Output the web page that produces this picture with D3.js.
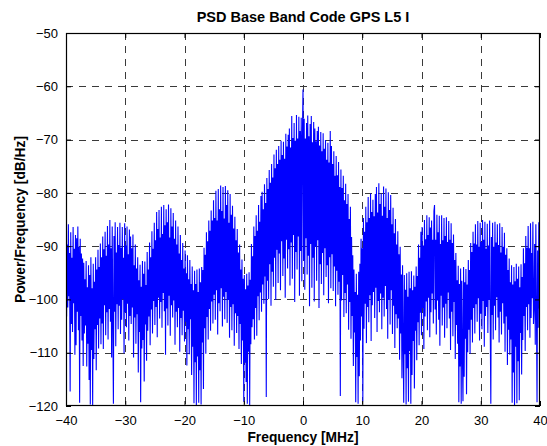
<!DOCTYPE html>
<html>
<head>
<meta charset="utf-8">
<script src="https://cdn.jsdelivr.net/npm/d3@7"></script>
<style>
  html, body { margin: 0; padding: 0; background: #fff; }
  svg { display: block; }
</style>
</head>
<body>
<svg id="chart" width="547" height="446"></svg>
<script>
// Frequency grid of the periodogram (MHz): first bin and bin spacing
const freqStart = -40;
const freqStep = 0.1;

// PSD estimate in dB/Hz, one array per 10 MHz band, one row per MHz
const psdBand1 = [ // -40 .. -30.1 MHz
  -86.9, -103.2, -89.7, -101.5, -85.9, -99.4, -91.3, -117.3, -87.4, -104.6,
  -92.2, -106.1, -86.4, -100.7, -90.5, -110.4, -87.9, -108.6, -88.5, -102.3,
  -86.3, -105.8, -90.1, -119.4, -88.6, -103.1, -91.4, -107.7, -92.3, -112.5,
  -93.1, -106.4, -96.2, -104.9, -92.8, -112.6, -97.7, -108.3, -93.6, -115.1,
  -95.4, -119.7, -92.1, -109.5, -97.9, -119.8, -93.3, -111.2, -96.7, -105.6,
  -92.1, -113.3, -94.4, -104.8, -90.7, -109.2, -93.9, -103.6, -89.5, -108.4,
  -92.1, -104.5, -88.2, -109.3, -90.6, -101.1, -87.3, -106.7, -91.8, -102.4,
  -86.2, -107.5, -89.7, -101.8, -85.1, -104.2, -90.4, -110.9, -86.3, -103.7,
  -119.6, -88.1, -102.3, -85.5, -108.8, -91.2, -100.9, -86.4, -105.6, -89.8,
  -101.2, -85.6, -106.5, -90.3, -103.8, -86.4, -99.9, -92.2, -110.1, -85.7
];
const psdBand2 = [ // -30 .. -20.1 MHz
  -102.4, -89.9, -105.2, -86.3, -100.8, -91.5, -107.7, -86.9, -103.1, -88.2,
  -104.6, -90.4, -101.5, -87.8, -110.9, -93.6, -103.4, -89.7, -108.3, -94.2,
  -102.8, -92.1, -113.7, -96.4, -106.1, -93.5, -119.3, -97.6, -109.2, -92.8,
  -107.6, -95.2, -115.4, -92.9, -104.7, -97.3, -111.5, -91.1, -105.9, -94.4,
  -103.2, -89.3, -108.6, -92.1, -101.9, -87.2, -106.4, -90.5, -100.3, -85.6,
  -104.8, -88.9, -101.4, -83.6, -107.1, -86.8, -99.7, -83.2, -103.6, -88.4,
  -100.5, -82.6, -105.3, -87.7, -98.8, -82.3, -102.2, -86.1, -110.4, -83.1,
  -101.7, -85.5, -104.9, -82.2, -99.3, -88.4, -106.8, -82.9, -101.1, -86.3,
  -103.4, -83.8, -100.2, -88.6, -108.5, -85.2, -102.3, -89.7, -105.2, -86.3,
  -101.6, -91.4, -109.8, -87.9, -103.5, -92.6, -106.7, -89.4, -102.1, -94.2
];
const psdBand3 = [ // -20 .. -10.1 MHz
  -107.9, -90.8, -104.2, -95.1, -112.4, -91.7, -105.6, -96.2, -110.3, -92.6,
  -103.7, -97.1, -114.2, -93.8, -108.9, -98.3, -119.5, -94.6, -111.8, -97.1,
  -119.8, -94.4, -110.7, -98.6, -119.4, -94.2, -113.3, -96.8, -119.7, -93.9,
  -108.1, -94.5, -116.8, -90.3, -105.4, -91.6, -110.2, -87.4, -103.3, -89.1,
  -107.5, -85.2, -101.8, -87.1, -105.9, -83.3, -100.4, -85.2, -104.5, -81.4,
  -99.1, -84.7, -103.8, -79.6, -98.3, -85.2, -106.6, -79.3, -100.7, -83.1,
  -102.2, -78.6, -97.9, -83.4, -105.1, -78.9, -99.5, -84.8, -103.7, -78.7,
  -98.6, -82.3, -104.4, -79.5, -100.1, -85.6, -107.2, -80.2, -101.4, -84.1,
  -105.8, -82.4, -100.9, -86.7, -108.7, -84.5, -102.6, -88.9, -106.3, -86.8,
  -103.1, -91.2, -109.3, -89.7, -104.6, -94.4, -112.1, -92.5, -107.7, -96.1
];
const psdBand4 = [ // -10 .. -0.1 MHz
  -119.2, -95.4, -111.9, -98.1, -115.5, -95.2, -119.6, -97.4, -109.8, -94.9,
  -119.8, -96.3, -108.4, -89.6, -105.2, -91.9, -103.7, -86.3, -107.5, -88.1,
  -101.6, -84.2, -106.8, -87.1, -99.4, -82.3, -103.9, -85.4, -98.7, -80.6,
  -102.3, -79.8, -97.2, -83.1, -100.8, -78.4, -95.7, -81.9, -118.3, -77.2,
  -96.5, -79.3, -99.9, -75.7, -93.4, -78.1, -101.2, -74.6, -94.8, -77.1,
  -97.6, -72.8, -92.2, -75.4, -100.1, -71.9, -90.7, -74.6, -96.9, -71.2,
  -91.4, -73.8, -98.3, -70.2, -89.1, -72.9, -95.6, -70.4, -92.3, -73.6,
  -99.7, -68.9, -88.8, -71.3, -94.2, -69.1, -90.6, -67.9, -97.4, -71.5,
  -89.3, -65.6, -96.1, -69.7, -87.9, -66.9, -100.5, -70.2, -91.1, -65.4,
  -94.4, -69.8, -88.2, -65.7, -99.3, -68.4, -90.9, -65.9, -96.6, -69.2
];
const psdBand5 = [ // 0 .. 9.9 MHz
  -60.6, -92.7, -66.1, -98.2, -69.8, -88.5, -66.9, -95.3, -65.5, -91.8,
  -69.4, -101.3, -67.1, -89.6, -65.6, -97.8, -70.5, -92.2, -66.7, -100.4,
  -67.9, -90.1, -70.3, -96.5, -68.4, -88.9, -67.6, -101.6, -71.1, -93.4,
  -68.6, -97.1, -72.2, -91.3, -68.8, -99.2, -71.7, -90.4, -70.1, -95.8,
  -73.8, -93.6, -70.6, -100.7, -74.3, -92.1, -68.4, -97.9, -71.2, -91.5,
  -74.6, -98.4, -72.2, -93.8, -76.8, -101.3, -73.1, -94.6, -76.7, -99.1,
  -74.2, -96.7, -78.9, -118.1, -75.6, -100.2, -79.1, -95.4, -76.8, -103.3,
  -81.4, -98.8, -78.3, -102.6, -82.1, -97.2, -80.2, -105.7, -84.9, -100.5,
  -82.6, -107.4, -88.3, -103.1, -91.7, -112.5, -94.4, -106.2, -98.6, -119.3,
  -95.2, -110.8, -99.1, -119.6, -94.8, -114.4, -93.3, -107.7, -88.6, -103.2
];
const psdBand6 = [ // 10 .. 19.9 MHz
  -90.4, -119.1, -84.7, -105.5, -87.3, -100.8, -82.6, -108.2, -85.5, -101.4,
  -80.8, -104.3, -84.7, -99.2, -80.1, -107.8, -83.6, -101.1, -81.3, -98.6,
  -84.4, -103.5, -80.2, -97.8, -78.9, -106.1, -83.7, -100.3, -78.2, -102.4,
  -82.1, -98.9, -80.1, -105.6, -84.3, -99.7, -78.8, -103.2, -82.6, -97.5,
  -79.2, -101.8, -84.7, -107.4, -79.9, -100.1, -83.2, -104.7, -80.4, -98.3,
  -85.9, -106.5, -82.8, -101.2, -87.6, -109.1, -84.9, -102.8, -89.7, -105.4,
  -87.2, -103.6, -91.5, -111.3, -90.1, -106.4, -95.3, -114.8, -93.6, -108.1,
  -119.4, -95.4, -110.3, -98.2, -119.7, -95.1, -112.9, -99.5, -119.2, -94.8,
  -109.7, -97.9, -119.6, -94.7, -114.2, -98.3, -107.8, -95.5, -116.7, -97.6,
  -105.9, -93.8, -111.4, -95.6, -104.3, -89.7, -108.6, -92.2, -102.5, -87.3
];
const psdBand7 = [ // 20 .. 29.9 MHz
  -106.7, -86.4, -101.6, -89.9, -109.3, -85.1, -103.2, -88.7, -100.4, -84.2,
  -105.8, -87.9, -99.7, -84.6, -107.1, -86.5, -102.4, -85.2, -98.9, -88.8,
  -104.5, -83.4, -82.3, -101.9, -88.8, -106.6, -84.1, -100.2, -87.4, -103.8,
  -84.3, -108.7, -89.6, -99.3, -84.2, -104.9, -88.9, -101.5, -84.7, -107.2,
  -88.1, -100.8, -84.6, -105.4, -89.2, -98.7, -85.3, -103.6, -88.8, -109.5,
  -85.7, -102.3, -89.4, -106.9, -87.8, -100.5, -92.6, -111.2, -91.3, -104.8,
  -96.4, -108.3, -93.7, -119.3, -97.1, -112.6, -94.2, -119.6, -96.5, -110.1,
  -119.1, -93.9, -114.5, -96.8, -107.4, -94.3, -117.8, -97.2, -109.9, -92.6,
  -105.7, -94.5, -110.2, -89.4, -103.8, -91.1, -108.1, -87.3, -101.6, -89.5,
  -106.4, -85.9, -100.9, -89.7, -104.2, -85.3, -99.8, -90.1, -107.7, -85.6
];
const psdBand8 = [ // 30 .. 40 MHz
  -102.7, -89.2, -105.6, -85.1, -100.3, -88.8, -108.9, -85.4, -103.1, -90.5,
  -101.4, -85.8, -106.3, -89.9, -100.1, -85.2, -104.7, -119.6, -88.3, -102.9,
  -85.6, -107.5, -90.1, -101.2, -85.4, -105.8, -89.3, -99.6, -85.9, -103.4,
  -89.8, -108.1, -85.7, -102.3, -91.2, -106.6, -86.4, -100.7, -90.1, -104.5,
  -87.5, -109.8, -91.6, -103.2, -90.4, -112.3, -94.5, -105.7, -92.3, -110.4,
  -96.8, -107.5, -93.6, -119.4, -97.2, -113.7, -93.9, -119.8, -96.6, -108.9,
  -93.3, -119.5, -96.1, -111.6, -93.8, -118.9, -97.7, -106.3, -93.4, -114.1,
  -95.8, -107.6, -90.4, -103.1, -93.2, -109.7, -88.1, -101.4, -90.3, -105.8,
  -86.2, -100.9, -90.4, -107.2, -85.7, -103.5, -91.3, -99.8, -85.4, -104.6,
  -101.3, -89.6, -108.5, -85.9, -102.2, -119.3, -90.8, -105.3, -85.5, -101.7,
  -87.1
];

const xTickValues = [-40, -30, -20, -10, 0, 10, 20, 30, 40];
const yTickValues = [-120, -110, -100, -90, -80, -70, -60, -50];

const titleText = "PSD Base Band Code GPS L5 I";
const xLabelText = "Frequency [MHz]";
const yLabelText = "Power/Frequency [dB/Hz]";

// ---------------------------------------------------------------
const psd = [].concat(psdBand1, psdBand2, psdBand3, psdBand4,
                      psdBand5, psdBand6, psdBand7, psdBand8);
const series = psd.map((v, i) => ({ f: freqStart + i * freqStep, p: v }));

const svg = d3.select("#chart");
const box = { left: 66, right: 540, top: 33, bottom: 406 };

const x = d3.scaleLinear().domain([-40, 40]).range([box.left, box.right]);
const y = d3.scaleLinear().domain([-120, -50]).range([box.bottom, box.top]);

const fontFamily = "'Liberation Sans', Arial, Helvetica, sans-serif";

svg.append("rect").attr("width", 547).attr("height", 446).attr("fill", "#fff");

// dashed grid
const grid = svg.append("g").attr("stroke", "#3a3a3a").attr("stroke-width", 1)
  .attr("stroke-dasharray", "7,6").attr("fill", "none");
grid.selectAll("line.gx").data(xTickValues.slice(1, -1)).join("line")
  .attr("x1", d => Math.round(x(d)) + 0.5).attr("x2", d => Math.round(x(d)) + 0.5)
  .attr("y1", box.top).attr("y2", box.bottom);
grid.selectAll("line.gy").data(yTickValues.slice(1, -1)).join("line")
  .attr("y1", d => Math.round(y(d)) + 0.5).attr("y2", d => Math.round(y(d)) + 0.5)
  .attr("x1", box.left).attr("x2", box.right);

// PSD trace, clipped to the axes box
svg.append("clipPath").attr("id", "plotClip").append("rect")
  .attr("x", box.left).attr("y", box.top)
  .attr("width", box.right - box.left).attr("height", box.bottom - box.top);

const line = d3.line().x(d => x(d.f)).y(d => y(d.p));
svg.append("path").datum(series)
  .attr("clip-path", "url(#plotClip)")
  .attr("fill", "none").attr("stroke", "#0000ff").attr("stroke-width", 1.1)
  .attr("d", line);

// axes with inward ticks
const xAxisBottom = d3.axisBottom(x).tickValues(xTickValues).tickSizeInner(-5).tickSizeOuter(0).tickPadding(10);
const xAxisTop = d3.axisTop(x).tickValues(xTickValues).tickSizeInner(-5).tickSizeOuter(0).tickFormat("");
const yAxisLeft = d3.axisLeft(y).tickValues(yTickValues).tickSizeInner(-5).tickSizeOuter(0).tickPadding(8);
const yAxisRight = d3.axisRight(y).tickValues(yTickValues).tickSizeInner(-5).tickSizeOuter(0).tickFormat("");

function styleAxis(g) {
  g.select(".domain").remove();
  g.selectAll(".tick line").attr("stroke", "#000");
  g.selectAll(".tick text").attr("fill", "#000")
    .style("font-family", fontFamily).style("font-size", "13px");
}
svg.append("g").attr("transform", `translate(0,${box.bottom})`).call(xAxisBottom).call(styleAxis);
svg.append("g").attr("transform", `translate(0,${box.top})`).call(xAxisTop).call(styleAxis);
svg.append("g").attr("transform", `translate(${box.left},0)`).call(yAxisLeft).call(styleAxis);
svg.append("g").attr("transform", `translate(${box.right},0)`).call(yAxisRight).call(styleAxis);

// frame
svg.append("rect")
  .attr("x", box.left + 0.5).attr("y", box.top + 0.5)
  .attr("width", box.right - box.left - 1).attr("height", box.bottom - box.top - 1)
  .attr("fill", "none").attr("stroke", "#000").attr("stroke-width", 1.2);

// title and axis labels
svg.append("text").text(titleText)
  .attr("x", (box.left + box.right) / 2).attr("y", 22)
  .attr("text-anchor", "middle").attr("font-weight", "bold")
  .style("font-family", fontFamily).style("font-size", "14.5px");

svg.append("text").text(xLabelText)
  .attr("x", (box.left + box.right) / 2).attr("y", 442)
  .attr("text-anchor", "middle").attr("font-weight", "bold")
  .style("font-family", fontFamily).style("font-size", "13.8px");

svg.append("text").text(yLabelText)
  .attr("transform", `translate(25,${(box.top + box.bottom) / 2}) rotate(-90)`)
  .attr("text-anchor", "middle").attr("font-weight", "bold")
  .style("font-family", fontFamily).style("font-size", "13.8px");
</script>
</body>
</html>
